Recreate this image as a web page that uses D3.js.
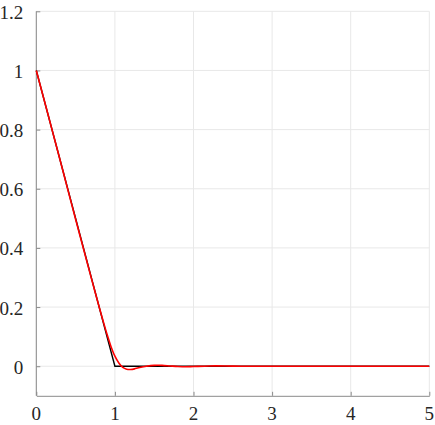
<!DOCTYPE html>
<html><head><meta charset="utf-8">
<script src="https://cdn.jsdelivr.net/npm/d3@7"></script>
<style>body{margin:0;background:#fff}svg{display:block}</style>
</head><body>
<svg id="c" width="435" height="425"></svg>
<script>
const xTicks = [0, 1, 2, 3, 4, 5];
const yTicks = [0, 0.2, 0.4, 0.6, 0.8, 1, 1.2];
const yTickLabels = ["0", "0.2", "0.4", "0.6", "0.8", "1", "1.2"];
const exactX = [0, 1, 5];
const exactY = [1, 0, 0];
const approxX = [0, 0.1, 0.2, 0.3, 0.4, 0.5, 0.6, 0.7, 0.8, 0.85, 0.9, 0.95, 1.0, 1.05, 1.1, 1.15, 1.2, 1.25, 1.3, 1.4, 1.5, 1.6, 1.7, 1.8, 1.9, 2.0, 2.2, 2.4, 2.6, 2.8, 3.0, 3.5, 4.0, 4.5, 5.0];
const approxY = [1.0, 0.9, 0.8, 0.7, 0.598, 0.497, 0.397, 0.298, 0.2, 0.153, 0.108, 0.067, 0.034, 0.011, -0.004, -0.010, -0.011, -0.009, -0.005, 0.0, 0.003, 0.003, 0.001, -0.001, -0.002, -0.001, 0.001, 0.001, 0.0, 0.0, 0.0, 0.0, 0.0, 0.0, 0.0];

const svg = d3.select("#c");
const L = 36.3, R = 429.3, T = 11.3, B = 395.8;
const x = d3.scaleLinear().domain([0, 5]).range([L, R]);
const y = d3.scaleLinear().domain([-0.1, 1.2]).range([B, T]);
const font = "Liberation Serif";

// grid
svg.append("g").selectAll("line").data(xTicks).join("line")
  .attr("x1", d => x(d)).attr("x2", d => x(d)).attr("y1", T).attr("y2", B)
  .attr("stroke", "#e8e8e8").attr("stroke-width", 1);
svg.append("g").selectAll("line").data(yTicks).join("line")
  .attr("x1", L).attr("x2", R).attr("y1", d => y(d)).attr("y2", d => y(d))
  .attr("stroke", "#e8e8e8").attr("stroke-width", 1);

// axes (lines and ticks via d3 axis, labels drawn separately)
const xAxis = d3.axisBottom(x).tickValues(xTicks).tickSizeInner(-4).tickSizeOuter(0).tickFormat("");
const gx = svg.append("g").attr("transform", `translate(0,${B})`).call(xAxis);
const yAxis = d3.axisLeft(y).tickValues(yTicks).tickSizeInner(-4).tickSizeOuter(0).tickFormat("");
const gy = svg.append("g").attr("transform", `translate(${L},0)`).call(yAxis);
[gx, gy].forEach(g => {
  g.select(".domain").attr("stroke", "#8a8a8a").attr("stroke-width", 1);
  g.selectAll(".tick line").attr("stroke", "#8a8a8a");
});
gy.select(".domain").attr("d", `M0,${B}V${T}`);

svg.append("g").selectAll("text").data(xTicks).join("text")
  .attr("x", d => x(d)).attr("y", B + 24).attr("text-anchor", "middle")
  .attr("font-family", font).attr("font-size", 19).attr("fill", "#262626")
  .text(d => String(d));
svg.append("g").selectAll("text").data(yTicks).join("text")
  .attr("x", L - 13).attr("y", d => y(d) + 7.5).attr("text-anchor", "end")
  .attr("font-family", font).attr("font-size", 19).attr("fill", "#262626")
  .text((d, i) => yTickLabels[i]);

// lines
const line = d3.line().x(d => x(d[0])).y(d => y(d[1]));
svg.append("path").datum(exactX.map((v, i) => [v, exactY[i]]))
  .attr("d", line).attr("fill", "none").attr("stroke", "#000").attr("stroke-width", 1.4);
svg.append("path").datum(approxX.map((v, i) => [v, approxY[i]]))
  .attr("d", line.curve(d3.curveCatmullRom)).attr("fill", "none").attr("stroke", "#ff0000").attr("stroke-width", 1.6);
</script>
</body></html>
